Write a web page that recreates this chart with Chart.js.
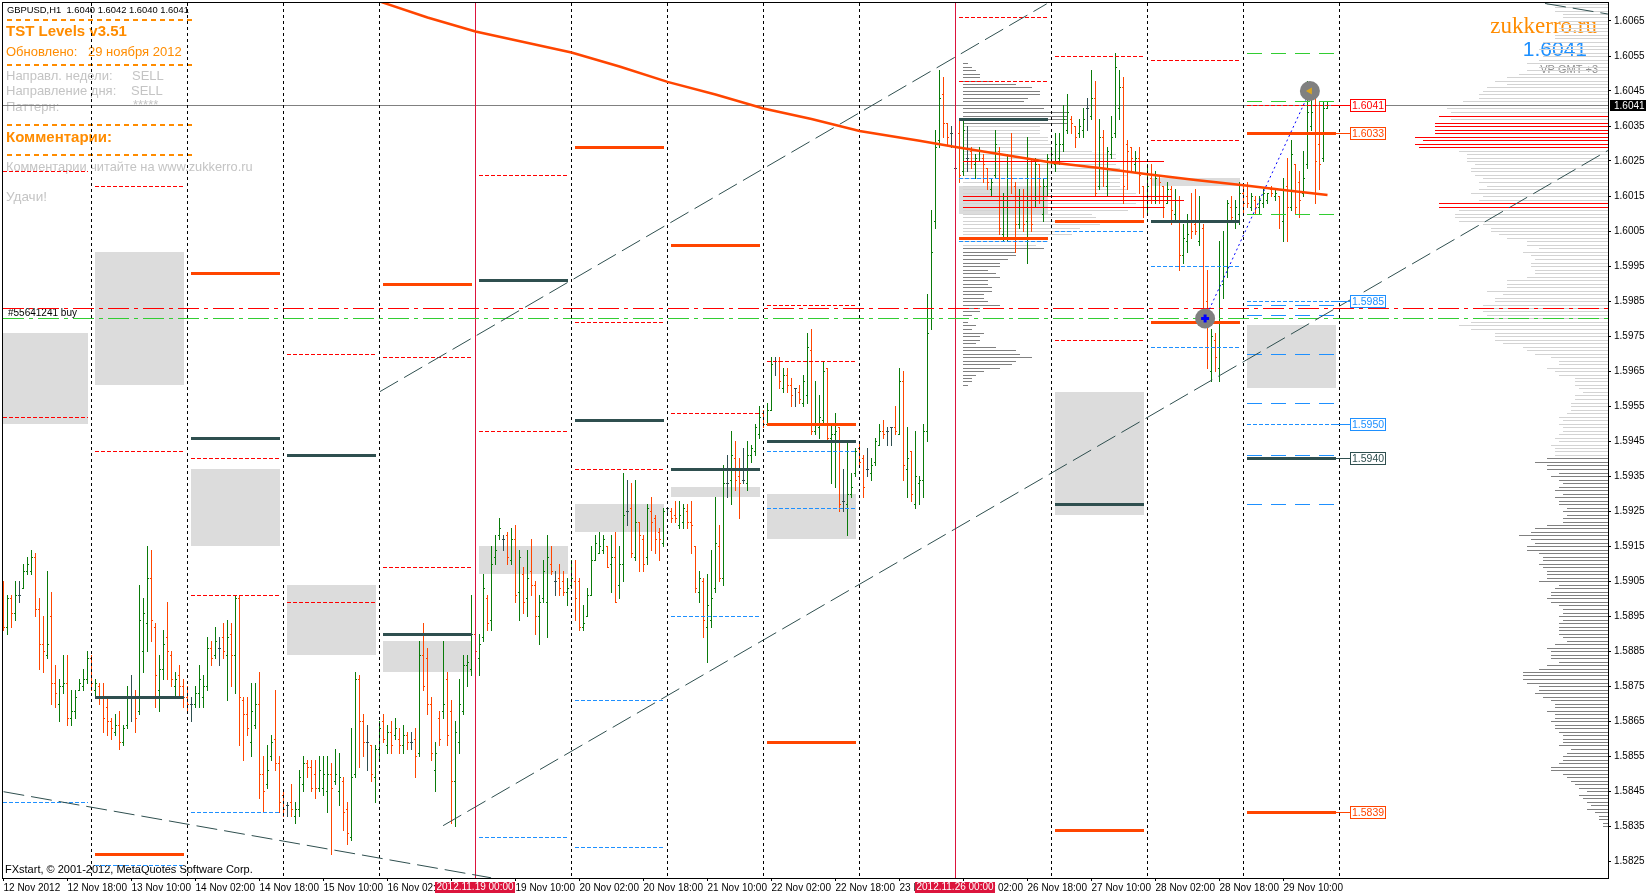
<!DOCTYPE html>
<html>
<head>
<meta charset="utf-8">
<title>GBPUSD,H1</title>
<script src="https://cdn.jsdelivr.net/npm/chart.js@4"></script>
<style>
html, body { margin: 0; padding: 0; background: #fff; }
canvas { display: block; }
</style>
</head>
<body>
<canvas id="chart" width="1646" height="895"></canvas>
<script>
// All prices below are in points: 15905 means 1.5905
const barOpen = [
15904,15892,15900,15896,15901,15903,15908,15908,15912,15897,15887,15884,15895,15876,15870,15875,15876,15866,15868,15874,
15875,15877,15883,15874,15875,15872,15869,15865,15862,15864,15859,15864,15872,15872,15868,15885,15893,15906,15892,15874,
15880,15889,15884,15875,15878,15875,15872,15870,15870,15873,15872,15875,15886,15884,15886,15889,15884,15890,15884,15900,
15871,15867,15859,15864,15870,15850,15847,15855,15860,15853,15844,15841,15842,15838,15840,15847,15853,15852,15850,15846,
15846,15845,15850,15848,15845,15848,15840,15832,15850,15877,15865,15859,15858,15849,15857,15865,15858,15862,15861,15860,
15858,15861,15859,15860,15856,15884,15883,15870,15851,15866,15868,15877,15868,15848,15859,15868,15881,15880,15890,15883,
15889,15900,15894,15912,15918,15917,15918,15911,15917,15902,15907,15900,15908,15904,15895,15900,15899,15910,15905,15906,
15905,15902,15904,15905,15905,15892,15895,15901,15911,15913,15914,15915,15910,15912,15904,15910,15925,15926,15912,15922,
15917,15912,15925,15923,15919,15916,15926,15925,15924,15921,15922,15925,15922,15915,15902,15905,15892,15894,15903,15915,
15906,15933,15934,15940,15935,15934,15933,15941,15942,15947,15953,15950,15954,15968,15968,15960,15964,15961,15960,15959,
15956,15958,15971,15948,15949,15951,15966,15946,15947,15949,15928,15927,15930,15936,15943,15940,15937,15936,15939,15944,
15948,15948,15949,15949,15947,15962,15937,15942,15927,15933,15934,15948,15983,16008,16031,16044,16036,16033,16023,16033,
16022,16026,16028,16024,16025,16026,16023,16017,16021,16028,16004,16012,16025,16018,16007,16014,16008,16026,16014,16024,
16010,16018,16025,16024,16026,16030,16034,16037,16035,16033,16034,16040,16038,16043,16018,16032,16018,16027,16033,16040,
16046,16030,16029,16024,16026,16018,16012,16020,16014,16021,16018,16013,16017,16010,16014,15998,16002,16008,16007,16002,
16006,15985,15965,15974,15966,15990,15995,16012,16008,16010,16016,16015,16012,16014,16012,16013,16014,16017,16015,16015,
16008,16018,16012,16024,16019,16016,16024,16035,16043,16030,16026,16040];
const barHigh = [
15905,15901,15901,15905,15905,15910,15912,15914,15913,15900,15895,15908,15902,15881,15877,15884,15884,15874,15874,15877,
15880,15885,15884,15877,15876,15876,15872,15866,15867,15868,15864,15875,15878,15874,15904,15900,15915,15914,15893,15884,
15891,15899,15885,15879,15881,15877,15875,15872,15875,15881,15878,15889,15888,15892,15889,15893,15894,15893,15901,15901,
15872,15872,15876,15876,15879,15855,15858,15861,15874,15855,15845,15842,15847,15842,15851,15855,15854,15854,15854,15855,
15855,15855,15853,15857,15856,15849,15842,15863,15879,15878,15867,15864,15858,15858,15865,15867,15864,15865,15866,15863,
15864,15862,15862,15863,15888,15893,15886,15872,15859,15868,15888,15879,15871,15865,15877,15884,15884,15901,15891,15890,
15907,15901,15915,15918,15923,15918,15919,15920,15921,15914,15909,15914,15917,15905,15901,15911,15918,15915,15908,15910,
15908,15906,15911,15911,15906,15898,15903,15915,15918,15919,15918,15915,15918,15919,15915,15936,15934,15933,15934,15922,
15918,15927,15929,15924,15920,15926,15926,15926,15928,15928,15927,15927,15928,15915,15908,15906,15907,15914,15929,15921,
15938,15941,15948,15945,15940,15943,15945,15944,15950,15955,15954,15956,15969,15969,15969,15966,15966,15963,15960,15961,
15964,15976,15977,15962,15958,15968,15966,15950,15953,15949,15937,15945,15936,15943,15945,15941,15943,15940,15946,15950,
15951,15949,15949,15955,15966,15965,15949,15942,15948,15935,15950,15987,16011,16034,16051,16049,16036,16035,16030,16037,
16037,16035,16029,16027,16029,16027,16023,16020,16034,16029,16016,16027,16033,16019,16017,16017,16032,16026,16026,16024,
16020,16027,16029,16033,16033,16041,16044,16038,16035,16037,16040,16043,16051,16048,16037,16034,16029,16038,16056,16051,
16049,16031,16029,16028,16029,16018,16024,16024,16022,16021,16018,16019,16018,16017,16015,16007,16010,16016,16017,16015,
16007,15994,15977,15976,16002,16005,16014,16015,16014,16019,16018,16019,16016,16015,16015,16017,16016,16018,16017,16015,
16020,16026,16031,16024,16022,16028,16048,16045,16045,16042,16042,16042];
const barLow = [
15891,15890,15892,15894,15899,15903,15907,15907,15895,15880,15879,15883,15870,15869,15865,15873,15864,15864,15866,15874,
15874,15876,15874,15872,15870,15862,15861,15860,15861,15857,15858,15863,15865,15862,15867,15879,15885,15888,15869,15868,
15877,15877,15875,15872,15872,15869,15868,15865,15869,15869,15869,15874,15881,15883,15881,15883,15871,15875,15873,15858,
15854,15861,15855,15863,15843,15839,15846,15854,15851,15839,15838,15838,15838,15836,15838,15845,15849,15845,15843,15845,
15844,15839,15827,15847,15841,15834,15830,15831,15849,15852,15855,15851,15848,15842,15854,15859,15856,15856,15860,15856,
15856,15857,15857,15849,15855,15874,15867,15854,15845,15858,15866,15858,15836,15835,15856,15867,15875,15878,15880,15878,
15888,15891,15891,15910,15917,15914,15910,15910,15899,15894,15896,15895,15901,15890,15887,15899,15889,15907,15901,15901,
15901,15898,15903,15894,15891,15891,15895,15901,15911,15913,15913,15909,15902,15899,15900,15905,15921,15912,15911,15908,
15908,15910,15914,15913,15911,15915,15924,15922,15922,15920,15920,15920,15913,15902,15899,15889,15882,15892,15902,15905,
15904,15929,15927,15931,15923,15933,15931,15939,15941,15946,15949,15950,15954,15964,15960,15959,15959,15955,15955,15956,
15955,15956,15947,15947,15946,15950,15945,15933,15932,15925,15925,15918,15929,15935,15938,15929,15935,15934,15938,15944,
15946,15944,15944,15947,15947,15934,15929,15928,15926,15927,15929,15945,15977,16006,16029,16032,16030,16029,16019,16019,
16021,16022,16023,16020,16025,16019,16017,16015,16020,16004,16002,16002,16016,15999,16006,16005,15996,16005,16012,16013,
16008,16015,16024,16022,16024,16028,16033,16033,16029,16032,16032,16034,16037,16015,16017,16018,16015,16026,16032,16037,
16013,16017,16022,16022,16016,16009,16010,16013,16013,16013,16009,16013,16007,16008,15994,15996,15999,16003,16004,16001,
15980,15966,15962,15965,15962,15986,15992,16008,16006,16007,16010,16012,16011,16010,16010,16012,16013,16015,16014,16006,
16002,16002,16011,16010,16009,16015,16023,16034,16013,16017,16025,16040];
const barClose = [
15892,15900,15896,15901,15901,15908,15910,15912,15897,15887,15885,15887,15876,15873,15875,15876,15866,15868,15872,15876,
15877,15883,15876,15876,15872,15866,15865,15863,15864,15859,15863,15872,15872,15866,15894,15896,15906,15894,15878,15880,
15887,15885,15877,15877,15875,15872,15870,15870,15873,15877,15875,15886,15883,15888,15886,15885,15889,15884,15900,15872,
15867,15863,15868,15870,15850,15845,15851,15859,15853,15842,15840,15841,15840,15840,15849,15853,15852,15846,15846,15851,
15850,15850,15846,15850,15849,15839,15833,15849,15877,15865,15859,15859,15850,15857,15863,15860,15862,15858,15863,15858,
15861,15859,15859,15855,15884,15875,15870,15856,15856,15860,15870,15861,15848,15862,15870,15881,15882,15890,15885,15887,
15903,15893,15910,15914,15920,15917,15912,15917,15901,15912,15899,15906,15904,15895,15899,15908,15912,15908,15905,15903,
15902,15903,15906,15900,15892,15893,15901,15911,15916,15915,15917,15909,15912,15899,15910,15924,15925,15913,15922,15918,
15910,15926,15922,15917,15917,15925,15926,15923,15923,15924,15926,15922,15921,15903,15906,15894,15898,15900,15916,15906,
15933,15933,15941,15934,15933,15934,15941,15943,15949,15952,15950,15954,15967,15968,15962,15964,15961,15958,15960,15957,
15962,15972,15948,15950,15952,15965,15946,15947,15948,15927,15928,15930,15932,15942,15939,15932,15937,15938,15945,15948,
15947,15948,15949,15948,15962,15938,15940,15930,15935,15934,15948,15976,15999,16029,16043,16036,16032,16033,16023,16021,
16034,16026,16025,16026,16028,16024,16019,16019,16030,16006,16012,16025,16020,16007,16014,16007,16026,16007,16024,16018,
16018,16026,16027,16030,16030,16037,16039,16036,16032,16035,16037,16040,16043,16016,16032,16023,16028,16032,16052,16046,
16018,16028,16026,16026,16021,16012,16018,16014,16020,16019,16012,16017,16011,16014,15998,16003,16004,16005,16005,16008,
15982,15972,15975,15969,15995,15995,16013,16009,16012,16016,16013,16013,16015,16012,16014,16016,16016,16016,16016,16010,
16010,16012,16027,16012,16014,16020,16039,16039,16025,16024,16040,16041];

// one entry per trading day block, in bar numbers
const dayFirstBar = [0,23,47,71,95,119,143,167,191,215,239,263,287,311];
const dayLastBar = [21,45,69,93,117,141,165,189,213,237,261,285,309,333];

const zoneDays = [0,1,2,3,4,5,6,7,8,10,11,12,13];
const zoneTop = [15976,15999,15937,15904,15888,15915,15927,15932,15930,16018,15959,16020,15978];
const zoneBottom = [15950,15961,15915,15884,15879,15907,15919,15929,15917,16010,15924,16018,15960];

const thickOrangeDays = [1,2,4,6,7,8,8,10,11,11,12,13,13];
const thickOrangeLevels = [15827,15993,15990,16029,16001,15950,15859,16003,16008,15834,15979,16033,15839];
const thickSlateDays = [1,2,3,4,5,6,7,8,10,11,12,13];
const thickSlateLevels = [15872,15946,15941,15890,15991,15951,15937,15945,16037,15927,16008,15940];
const redDashDays = [0,0,1,1,2,2,3,3,4,4,5,5,6,6,7,8,8,10,10,11,11,12,12,13];
const redDashLevels = [16022,15952,16018,15942,15940,15901,15970,15899,15969,15909,16021,15948,15979,15937,15953,15984,15968,16066,16048,16055,15974,16054,16031,16041];
const blueDashDays = [0,1,2,5,6,6,7,8,8,10,10,11,12,12,13,13];
const blueDashLevels = [15842,15824,15839,15832,15871,15829,15895,15942,15926,16020,16002,16005,15995,15972,15985,15950];
const blueLongLevels = [15984,15981,15970,15956,15941,15927];
const greenLongLevels = [16056,16042,16010];

const orderOpenLevel = 15983;
const orderStopLevel = 15980;
const currentPrice = 16041;

const separatorBars = [22,46,70,94,142,166,190,214,262,286,310,334];
const weekBars = [118,238];
const weekLabels = ['2012.11.19 00:00','2012.11.26 00:00'];

// moving average read at a few bars
const maBars = [94.5,106,118,130,142,154,166,178,190,202,214,229,238,250,262,274,286,298,310,320,331];
const maLevels = [16070.4,16066,16062,16059,16056,16052,16047.6,16044,16040,16037,16033.6,16030.8,16029,16026.8,16024.6,16023,16021.2,16019.6,16018.1,16016.7,16015.3];

// trend lines: bar, level, bar, level
const lowerChannel = [109.9,15835.1,401.1,16028];
const upperChannel = [94.1,15959.1,260.8,16069.9];
const fallingLine = [0,15844.8,121.9,15820.2];
const fallingLineRight = [385.4,16070,401.1,16067];
const tradeArrow = [300.4,15980,326.6,16045];

// right hand volume profile, one count per point from rightProfileFirst downwards
const rightProfileFirst = 16070;
const rightProfileCounts = [
15,13,13,11,11,12,11,12,12,13, 13,16,16,17,14,16,17,20,17,20, 22,25,28,25,30,31,32,32,36,38,
40,39,42,39,43,43,43,43,48,46, 48,47,37,35,35,35,33,34,34,33, 31,32,30,32,34,31,32,42,42,37,
38,38,37,31,29,29,27,25,20,20, 17,21,19,18,19,19,18,18,20,25, 25,25,30,26,28,28,31,31,31,30,
30,34,37,34,28,28,28,26,21,20, 18,14,12,12,15,13,12,8,8,8, 7,6,8,8,9,9,9,10,12,11,
12,11,11,12,13,12,14,13,13,13, 15,18,15,15,12,14,12,11,12,13, 11,13,12,12,10,11,10,11,11,15,
18,19,22,19,18,20,20,17,16,16, 17,16,15,15,15,17,12,13,14,14, 15,14,12,11,11,12,11,12,12,12,
12,11,10,13,15,14,14,14,12,15, 17,21,21,21,20,17,17,18,16,14, 13,13,15,13,13,14,13,13,12,11,
11,11,12,9,10,11,11,12,14,14, 11,10,9,8,7,5,7,6,5,4, 5,3,2,2,1,1];
const rightRedLevels = [16038,16036,16035,16034,16033,16032,16031,16030,16029,16013,16012];
const rightDarkBelow = 15940;

// middle volume profile of the week, starts at midProfileBar
const midProfileFirst = 16053;
const midProfileBar = 240;
const midProfileCounts = [
1,2,3,4,4,7,13,17,19,19, 16,15,17,20,26,26,26,26,19,19, 19,21,21,22,22,32,38,38,50,38,
39,39,41,39,39,39,41,43,52,55, 43,50,41,32,33,34,34,29,27,27, 21,21,18,20,13,13,11,9,9,6,
8,9,6,6,7,7,5,5,6,9, 4,4,2,1,1,3,2,5,4,4, 3,8,13,14,17,13,12,9,5,3, 2,2,1];
const midRedLevels = [16025,16015,16014,16012];

const labelLevels = [16041,16033,15985,15950,15940,15839];
const labelColors = ['#FF0000','#FF4500','#1E90FF','#1E90FF','#2F4F4F','#FF4500'];

const yTickLevels = [16065,16055,16045,16035,16025,16015,16005,15995,15985,15975,15965,15955,15945,15935,15925,15915,15905,15895,15885,15875,15865,15855,15845,15835,15825];
const xTickBars = [0,16,32,48,64,80,96,112,128,144,160,176,192,208,224,240,256,272,288,304,320];
const xTickLabels = ['12 Nov 2012','12 Nov 18:00','13 Nov 10:00','14 Nov 02:00','14 Nov 18:00','15 Nov 10:00','16 Nov 02:00','16 Nov 18:00','19 Nov 10:00','20 Nov 02:00','20 Nov 18:00','21 Nov 10:00','22 Nov 02:00','22 Nov 18:00','23 Nov 10:00','26 Nov 02:00','26 Nov 18:00','27 Nov 10:00','28 Nov 02:00','28 Nov 18:00','29 Nov 10:00'];

const SANS = '"Liberation Sans", Arial, sans-serif';
const ORANGE = '#FF4500';
const SLATE = '#2F4F4F';
const GREEN = '#0A7A0A';
const BLUE = '#1E90FF';
const LIME = '#32CD32';
const RED = '#FF0000';
const CRIMSON = '#DC143C';
const TITLE_ORANGE = '#FF8C00';
const PANEL_GREY = '#C4C4C4';
const LAST_BAR = 401;

const price = points => points / 10000;

// dataset whose points go in pairs, painted on whole pixels by crispPlugin
function pairs(color, width, dash, list, extra) {
    const data = [];
    list.forEach(s => {
        data.push({ x: s[0], y: price(s[1]) });
        data.push({ x: s[2], y: price(s[3]) });
    });
    return Object.assign({ crisp: true, data, borderColor: color, borderWidth: width, crispDash: dash, pointRadius: 0 }, extra || {});
}

function dayLines(days, levels) {
    return levels.map((level, i) => [dayFirstBar[days[i]], level, dayLastBar[days[i]], level]);
}

function lastDayLines(levels) {
    return levels.map(level => [dayFirstBar[13], level, dayLastBar[13], level]);
}

function ohlcSegments(test) {
    const out = [];
    barOpen.forEach((open, i) => {
        if (!test(open, barClose[i])) return;
        out.push([i, barLow[i], i, barHigh[i]]);
        out.push([i - 0.25, open, i, open]);
        out.push([i, barClose[i], i + 0.25, barClose[i]]);
    });
    return out;
}

function profileSegments(first, counts, from, test) {
    const out = [];
    counts.forEach((count, i) => {
        const level = first - i;
        if (!test(level)) return;
        if (from === LAST_BAR) out.push([LAST_BAR - count, level, LAST_BAR, level]);
        else out.push([from, level, from + count, level]);
    });
    return out;
}

function thinLine(points, color, dash) {
    const data = [];
    for (let i = 0; i < points.length; i += 2) data.push({ x: points[i], y: price(points[i + 1]) });
    return { data, borderColor: color, borderWidth: 1, borderDash: dash || [], pointRadius: 0, tension: 0 };
}

const isMidDark = level => level >= 16036 || level <= 16000;

const layers = [
    pairs('#DCDCDC', 1, null, zoneDays.map((d, i) => [dayFirstBar[d], zoneTop[i], dayLastBar[d], zoneBottom[i]]), { crispFill: true }),
    pairs('#D3D3D3', 1, null, profileSegments(rightProfileFirst, rightProfileCounts, LAST_BAR, l => l > rightDarkBelow && !rightRedLevels.includes(l))),
    pairs('#808080', 1, null, profileSegments(rightProfileFirst, rightProfileCounts, LAST_BAR, l => l <= rightDarkBelow)),
    pairs('#D3D3D3', 1, null, profileSegments(midProfileFirst, midProfileCounts, midProfileBar, l => !isMidDark(l) && !midRedLevels.includes(l))),
    pairs('#808080', 1, null, profileSegments(midProfileFirst, midProfileCounts, midProfileBar, isMidDark)),
    pairs('#808080', 1, null, [[-0.125, currentPrice, LAST_BAR + 0.125, currentPrice]]),
    pairs(ORANGE, 1, null, ohlcSegments((o, c) => c < o)),
    pairs(GREEN, 1, null, ohlcSegments((o, c) => c > o)),
    pairs(SLATE, 1, null, ohlcSegments((o, c) => c === o)),
    pairs(RED, 1, null, profileSegments(rightProfileFirst, rightProfileCounts, LAST_BAR, l => rightRedLevels.includes(l))),
    pairs(RED, 1, null, profileSegments(midProfileFirst, midProfileCounts, midProfileBar, l => midRedLevels.includes(l))),
    pairs('#000000', 1, [3, 3], separatorBars.map(b => [b, 15820, b, 16071])),
    pairs(CRIMSON, 1, null, weekBars.map(b => [b, 15820, b, 16071])),
    pairs(RED, 1, [4, 2], dayLines(redDashDays, redDashLevels)),
    pairs(BLUE, 1, [4, 2], dayLines(blueDashDays, blueDashLevels)),
    pairs(BLUE, 1, [15, 9], lastDayLines(blueLongLevels)),
    pairs(LIME, 1, [15, 9], lastDayLines(greenLongLevels)),
    pairs(RED, 1, [21, 5, 4, 5], [[-0.125, orderOpenLevel, LAST_BAR, orderOpenLevel]]),
    pairs(LIME, 1, [21, 5, 4, 5], [[-0.125, orderStopLevel, LAST_BAR, orderStopLevel]]),
    pairs(SLATE, 3, null, dayLines(thickSlateDays, thickSlateLevels)),
    pairs(ORANGE, 3, null, dayLines(thickOrangeDays, thickOrangeLevels)),
    thinLine(lowerChannel, SLATE, [21, 7]),
    thinLine(upperChannel, SLATE, [21, 7]),
    thinLine(fallingLine, SLATE, [21, 7]),
    thinLine(fallingLineRight, SLATE, [21, 7]),
    { data: maBars.map((b, i) => ({ x: b, y: price(maLevels[i]) })), borderColor: ORANGE, borderWidth: 2.5, pointRadius: 0, tension: 0 },
    thinLine(tradeArrow, '#0000FF', [2, 3]),
    { data: [{ x: tradeArrow[0], y: price(tradeArrow[1]) }, { x: tradeArrow[2], y: price(tradeArrow[3]) }], showLine: false,
      pointRadius: 10, pointBackgroundColor: '#808080', pointBorderColor: '#808080', pointBorderWidth: 0 },
    { data: [{ x: tradeArrow[0], y: price(tradeArrow[1]) }], showLine: false, pointStyle: 'cross',
      pointRadius: 4, pointBorderColor: '#0000FF', pointBorderWidth: 3 },
    { data: [{ x: tradeArrow[2], y: price(tradeArrow[3]) }], showLine: false, pointStyle: 'triangle', pointRotation: -90,
      pointRadius: 4, pointBackgroundColor: '#DAA520', pointBorderColor: '#DAA520', pointBorderWidth: 0 }
];
layers.forEach((ds, i) => { ds.order = layers.length - i; });

function paintRun(ctx, from, to, fixed, width, dash, vertical) {
    const put = (a, b) => {
        if (vertical) ctx.fillRect(fixed, a, width, b - a);
        else ctx.fillRect(a, fixed, b - a, width);
    };
    if (!dash) { put(from, to); return; }
    let pos = from, k = 0;
    while (pos < to) {
        const end = Math.min(pos + dash[k % dash.length], to);
        if (k % 2 === 0) put(pos, end);
        pos = end;
        k++;
    }
}

// Paints pair datasets on whole pixels so the lines stay as sharp as a terminal screenshot
const crispPlugin = {
    id: 'crisp',
    beforeDatasetDraw(chart, args) {
        const ds = chart.data.datasets[args.index];
        if (!ds.crisp) return;
        const ctx = chart.ctx;
        const pts = args.meta.data;
        ctx.save();
        ctx.fillStyle = ds.borderColor;
        for (let i = 0; i + 1 < pts.length; i += 2) {
            const a = pts[i], b = pts[i + 1];
            const w = ds.borderWidth;
            if (ds.crispFill) {
                const x0 = Math.floor(a.x), y0 = Math.round(a.y);
                ctx.fillRect(x0, y0, Math.floor(b.x) - x0 + 1, Math.round(b.y) - y0);
            } else if (a.x === b.x) {
                const y0 = Math.round(Math.min(a.y, b.y)), y1 = Math.round(Math.max(a.y, b.y)) + 1;
                paintRun(ctx, Math.max(y0, chart.chartArea.top), Math.min(y1, chart.chartArea.bottom), Math.floor(a.x), w, ds.crispDash, true);
            } else {
                const row = Math.round(a.y) - Math.floor(w / 2);
                paintRun(ctx, Math.floor(a.x), Math.floor(b.x) + 1, row, w, ds.crispDash, false);
            }
        }
        ctx.restore();
        return false;
    }
};

const panelTexts = [
    ['GBPUSD,H1  1.6040 1.6042 1.6040 1.6041', 7, 10, '9.4px', '#000000'],
    ['TST Levels v3.51', 6, 32, 'bold 15px', TITLE_ORANGE],
    ['Обновлено:', 6, 52, '13px', TITLE_ORANGE],
    ['29 ноября 2012', 88, 52, '13px', TITLE_ORANGE],
    ['Направл. недели:', 6, 76, '13px', PANEL_GREY],
    ['SELL', 132, 76, '13px', PANEL_GREY],
    ['Направление дня:', 6, 91, '13px', PANEL_GREY],
    ['SELL', 131, 91, '13px', PANEL_GREY],
    ['Паттерн:', 6, 107, '13px', PANEL_GREY],
    ['*****', 133, 105, '13px', PANEL_GREY],
    ['Комментарии:', 6, 138, 'bold 15px', TITLE_ORANGE],
    ['Комментарии читайте на www.zukkerro.ru', 6, 167, '12.8px', PANEL_GREY],
    ['Удачи!', 6, 197, '13.5px', PANEL_GREY],
    ['#55641241 buy', 8, 313, '10px', '#000000'],
    ['FXstart, © 2001-2012, MetaQuotes Software Corp.', 5, 870, '11px', '#000000']
];
const panelRules = [19, 64, 124, 154];

const textPlugin = {
    id: 'panel',
    beforeDatasetsDraw(chart) {
        const ctx = chart.ctx;
        ctx.save();
        ctx.textBaseline = 'middle';
        ctx.textAlign = 'left';
        panelTexts.forEach(t => {
            ctx.font = t[3] + ' ' + SANS;
            ctx.fillStyle = t[4];
            ctx.fillText(t[0], t[1], t[2]);
        });
        ctx.fillStyle = TITLE_ORANGE;
        panelRules.forEach(y => paintRun(ctx, 7, 194, y, 2, [5, 4], false));
        ctx.textAlign = 'right';
        ctx.font = '23px "Liberation Serif", serif';
        ctx.fillStyle = TITLE_ORANGE;
        ctx.fillText('zukkerro.ru', 1597, 27);
        ctx.font = '21px ' + SANS;
        ctx.fillStyle = BLUE;
        ctx.fillText('1.6041', 1587, 50);
        ctx.font = '11px ' + SANS;
        ctx.fillStyle = '#909090';
        ctx.fillText('VP GMT +3', 1598, 70);
        ctx.restore();
    },
    afterDatasetsDraw(chart) {
        const ctx = chart.ctx;
        const xs = chart.scales.x, ys = chart.scales.y;
        ctx.save();
        ctx.textBaseline = 'middle';
        ctx.textAlign = 'left';
        ctx.font = '10.5px ' + SANS;
        const boxLeft = Math.floor(xs.getPixelForValue(336.7));
        const stubLeft = Math.floor(xs.getPixelForValue(dayLastBar[13]));
        labelLevels.forEach((level, i) => {
            const y = Math.round(ys.getPixelForValue(price(level)));
            ctx.fillStyle = labelColors[i];
            ctx.fillRect(stubLeft, y, boxLeft - stubLeft, 1);
            ctx.fillStyle = '#FFFFFF';
            ctx.fillRect(boxLeft, y - 6, 36, 13);
            ctx.strokeStyle = labelColors[i];
            ctx.lineWidth = 1;
            ctx.strokeRect(boxLeft + 0.5, y - 5.5, 35, 12);
            ctx.fillStyle = labelColors[i];
            ctx.fillText(price(level).toFixed(4), boxLeft + 2, y + 1);
        });
        ctx.restore();
    },
    afterDraw(chart) {
        const ctx = chart.ctx;
        const xs = chart.scales.x, ys = chart.scales.y;
        ctx.save();
        ctx.strokeStyle = '#000000';
        ctx.lineWidth = 1;
        ctx.strokeRect(2.5, 2.5, 1606, 876);
        const y = Math.round(ys.getPixelForValue(price(currentPrice)));
        ctx.fillStyle = '#000000';
        ctx.fillRect(1610, y - 5, 36, 11);
        ctx.fillStyle = '#FFFFFF';
        ctx.textBaseline = 'middle';
        ctx.textAlign = 'left';
        ctx.font = '10px ' + SANS;
        ctx.fillText(price(currentPrice).toFixed(4), 1614, y + 1);
        weekBars.forEach((bar, i) => {
            const x = Math.floor(xs.getPixelForValue(bar));
            ctx.fillStyle = CRIMSON;
            ctx.fillRect(x - 40, 882, 80, 11);
            ctx.fillStyle = '#FFFFFF';
            ctx.textAlign = 'center';
            ctx.fillText(weekLabels[i], x, 887.5);
        });
        ctx.restore();
    }
};

new Chart(document.getElementById('chart').getContext('2d'), {
    type: 'line',
    data: { datasets: layers },
    plugins: [crispPlugin, textPlugin],
    options: {
        responsive: false,
        animation: false,
        events: [],
        layout: { autoPadding: false, padding: { top: 3, left: 3, right: 0, bottom: 0 } },
        plugins: { legend: { display: false }, tooltip: { enabled: false }, title: { display: false } },
        scales: {
            x: {
                type: 'linear',
                min: -0.125,
                max: 401.125,
                grid: { drawOnChartArea: false, tickLength: 3, color: '#000000' },
                border: { display: false },
                afterBuildTicks: axis => { axis.ticks = xTickBars.map(value => ({ value })); },
                afterFit: axis => { axis.height = 17; axis.paddingLeft = 0; axis.paddingRight = 0; },
                ticks: {
                    autoSkip: false,
                    maxRotation: 0,
                    minRotation: 0,
                    align: 'start',
                    padding: 1,
                    color: '#000000',
                    font: { family: SANS, size: 10 },
                    callback: (value, index) => xTickLabels[index]
                }
            },
            y: {
                type: 'linear',
                position: 'right',
                min: 1.6065 - 857 / 35000,
                max: 1.6065 + 18 / 35000,
                grid: { drawOnChartArea: false, tickLength: 3, color: '#000000' },
                border: { display: false },
                afterBuildTicks: axis => { axis.ticks = yTickLevels.map(level => ({ value: price(level) })); },
                afterFit: axis => { axis.width = 38; axis.paddingTop = 0; axis.paddingBottom = 0; },
                ticks: {
                    padding: 3,
                    color: '#000000',
                    font: { family: SANS, size: 10 },
                    callback: value => value.toFixed(4)
                }
            }
        }
    }
});
</script>
</body>
</html>
